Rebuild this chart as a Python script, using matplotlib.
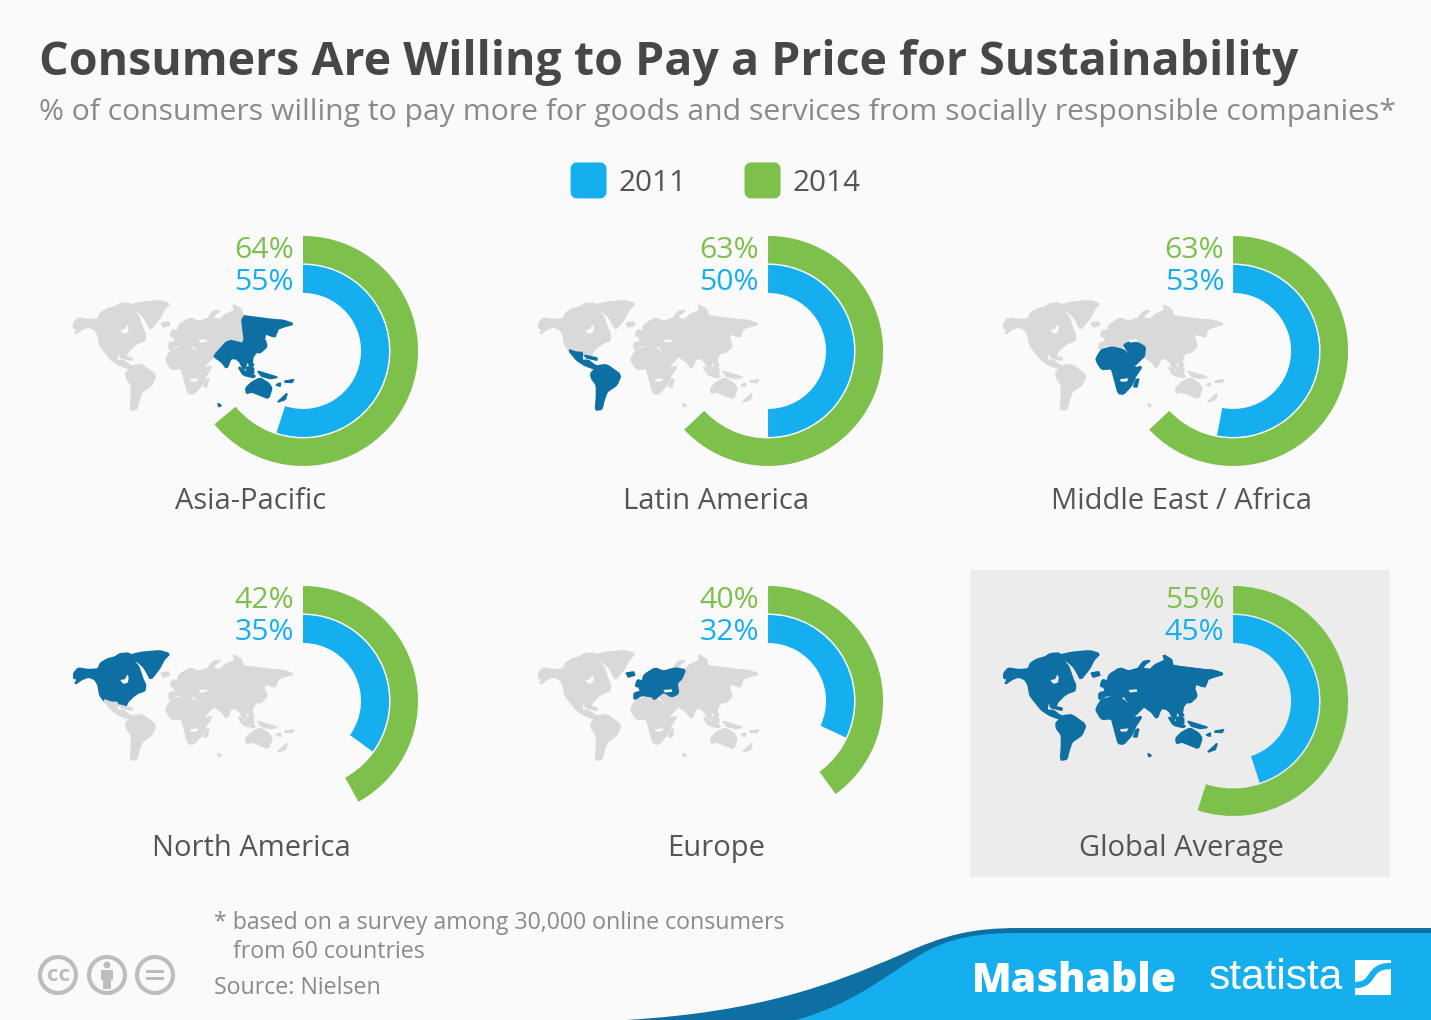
import matplotlib
matplotlib.use("Agg")
import matplotlib.pyplot as plt
from matplotlib.patches import Wedge, Polygon, Rectangle, Circle, FancyBboxPatch, PathPatch
from matplotlib.path import Path

regions = ["Asia-Pacific", "Latin America", "Middle East / Africa", "North America", "Europe", "Global Average"]
values_2011 = [55, 50, 53, 35, 32, 45]
values_2014 = [64, 63, 63, 42, 40, 55]
legend_years = ["2011", "2014"]

title = "Consumers Are Willing to Pay a Price for Sustainability"
subtitle = "% of consumers willing to pay more for goods and services from socially responsible companies*"

BG = "#fafafa"
PANEL = "#ececec"
BLUE = "#15aff0"
GREEN = "#7dc04b"
DARK = "#0e6fa3"
GREY = "#d9d9d9"
FONT = "Open Sans"

# Map silhouettes (decorative), outline points relative to a reference grid.
# "eurasia" is the whole land mass; eu/apac/mea lie on top of it.
MAP = {
    "na": [[(12,100),(25,85),(55,90),(85,88),(92,70),(112,58),(135,52),(150,42),(178,40),(190,62),(205,80),(212,100),(218,118),(226,135),(224,152),(205,158),(190,168),(172,186),(165,205),(158,192),(140,190),(128,197),(103,183),(90,165),(85,135),(75,118),(55,110),(35,118),(15,132),(25,115),(12,115)],
           [(180,46),(215,38),(270,33),(298,42),(282,58),(268,85),(242,118),(230,95),(222,82),(208,68),(192,58)]],
    "la": [[(101,180),(125,188),(142,188),(140,212),(160,212),(178,226),(194,232),(190,240),(172,234),(150,226),(125,210)],
           [(150,197),(185,205),(185,210),(155,203)],
           [(168,250),(190,228),(215,225),(257,255),(245,285),(215,305),(205,335),(200,357),(182,360),(185,320),(185,285),(170,265)]],
    "eurasia": [[(298,178),(298,160),(318,155),(312,140),(302,138),(308,120),(322,125),(328,105),(360,85),(385,95),(420,85),(450,90),(465,75),(495,62),(490,45),(515,60),(517,78),(570,85),(610,90),(640,92),(670,102),(640,110),(615,120),(612,140),(585,130),(580,165),(560,185),(548,200),(545,222),(530,215),(522,240),(510,215),(497,205),(482,205),(470,235),(455,215),(440,205),(432,198),(425,205),(415,215),(405,225),(395,205),(385,185),(378,175),(372,165),(358,178),(352,170),(340,168),(320,165)],
                [(415,85),(430,65),(450,62),(435,72),(425,88)],
                [(275,100),(295,97),(298,105),(280,110)]],
    "africa": [[(288,210),(295,195),(305,180),(335,172),(370,180),(385,195),(405,235),(425,230),(405,260),(395,285),(370,312),(355,310),(343,265),(335,235),(305,238)],
               [(402,290),(408,270),(415,268),(410,290)]],
    "eu": [[(298,178),(298,160),(318,155),(312,140),(302,138),(308,120),(322,125),(328,105),(360,85),(385,95),(420,85),(450,90),(440,115),(425,130),(430,160),(410,170),(385,155),(358,178),(352,170),(340,168),(320,165)],
           [(275,100),(295,97),(298,105),(280,110)]],
    "me": [[(372,165),(390,156),(415,160),(435,172),(432,198),(425,205),(415,215),(405,225),(395,205),(385,185),(378,175)]],
    "apac": [[(515,78),(570,85),(610,90),(640,92),(670,102),(640,110),(615,120),(612,140),(585,130),(580,165),(560,185),(548,200),(545,222),(530,215),(522,240),(510,215),(497,205),(482,205),(470,235),(455,215),(440,205),(432,198),(475,151),(525,163)],
             [(555,185),(575,170),(585,150),(590,170),(570,188)],
             [(610,135),(618,118),(622,122),(614,140)],
             [(535,205),(550,225),(540,235)],
             [(505,230),(530,250),(555,258),(550,262),(520,255)],
             [(530,232),(550,235),(550,250),(530,248)],
             [(565,245),(620,262),(600,265),(575,258)],
             [(528,295),(545,278),(570,265),(595,280),(605,295),(595,325),(570,315),(545,305),(530,310)],
             [(625,335),(650,312),(645,328)],
             [(620,285),(630,280),(630,288)],
             [(645,275),(670,270),(665,277)],
             [(445,342),(452,347),(447,349)]],
}
HOLES = [[(150,120),(165,118),(172,103),(176,112),(174,128),(160,132)],
         [(360,268),(385,265),(380,275),(362,275)],
         [(385,150),(410,148),(412,155),(390,158)]]
HIGHLIGHT = [["apac"], ["la"], ["africa", "me"], ["na"], ["eu"], ["na", "la", "eurasia", "africa", "eu", "me", "apac"]]

CENTERS = [(303, 351), (768, 351), (1233, 351), (303, 701), (768, 701), (1233, 701)]
LABEL_Y = [501, 501, 501, 848, 848, 848]

fig = plt.figure(figsize=(14.311, 10.201), dpi=100, facecolor=BG)
ax = fig.add_axes([0, 0, 1, 1])
ax.set_xlim(0, 1431)
ax.set_ylim(1020, 0)
ax.set_axis_off()

ax.text(39, 62, title, fontsize=33.5, fontweight="bold", color="#474747", family=FONT, va="center", ha="left")
ax.text(39, 112, subtitle, fontsize=21.7, color="#8a8a8a", family=FONT, va="center", ha="left")

# legend
for x, col, yr in zip((571, 745), (BLUE, GREEN), legend_years):
    ax.add_patch(FancyBboxPatch((x + 3, 166), 29, 29, boxstyle="round,pad=0,rounding_size=3",
                                mutation_aspect=1, fc=col, ec=col, lw=5))
    ax.text(x + 47, 183, yr, fontsize=21.4, color="#555555", family=FONT, va="center", ha="left")

# highlighted panel
ax.add_patch(Rectangle((970, 570), 420, 307, fc=PANEL, ec="none", zorder=0.5))

MX, MY, MS = 699, 183, 3.0


def smooth(pts):
    # one pass of light corner cutting to soften the outline
    if len(pts) < 5:
        return pts
    out = []
    n = len(pts)
    for k in range(n):
        (x0, y0), (x1, y1) = pts[k], pts[(k + 1) % n]
        out.append((0.85 * x0 + 0.15 * x1, 0.85 * y0 + 0.15 * y1))
        out.append((0.15 * x0 + 0.85 * x1, 0.15 * y0 + 0.85 * y1))
    return out


def to_px(pts, cx, cy):
    return [(cx + (x - MX) / MS, cy + (y - MY) / MS) for x, y in smooth(pts)]


for i, name in enumerate(regions):
    cx, cy = CENTERS[i]
    bg = PANEL if i == 5 else BG
    for key, polys in MAP.items():
        highlighted = key in HIGHLIGHT[i]
        # overlays only show when their region is highlighted; the land mass beneath stays grey
        if key in ("eu", "me", "apac") and not highlighted:
            if key != "apac":
                continue
            polys = polys[1:]
        col = DARK if highlighted else GREY
        for pts in polys:
            ax.add_patch(Polygon(to_px(pts, cx, cy), closed=True, fc=col, ec=col, lw=1.5,
                                 joinstyle="round", zorder=2))
    for pts in HOLES:
        ax.add_patch(Polygon(to_px(pts, cx, cy), closed=True, fc=bg, ec="none", zorder=2.1))

    # y axis is inverted, so angles run clockwise on screen; start at top (-90)
    ax.add_patch(Wedge((cx, cy), 115, -90, -90 + 3.6 * values_2014[i], width=27.5, fc=GREEN, ec="none", zorder=3))
    ax.add_patch(Wedge((cx, cy), 86, -90, -90 + 3.6 * values_2011[i], width=28, fc=BLUE, ec="none", zorder=3))

    ax.text(cx - 9, cy - 101, f"{values_2014[i]}%", fontsize=21.8, color=GREEN, family=FONT, va="center", ha="right", zorder=4)
    ax.text(cx - 9, cy - 69, f"{values_2011[i]}%", fontsize=21.8, color=BLUE, family=FONT, va="center", ha="right", zorder=4)
    ax.text(cx - 52, LABEL_Y[i], name, fontsize=21, color="#555555", family=FONT, va="center", ha="center", zorder=4)

# footnotes
ax.text(214, 923, "* based on a survey among 30,000 online consumers", fontsize=16.7, color="#8a8a8a", family=FONT, va="center")
ax.text(233, 952, "from 60 countries", fontsize=16.7, color="#8a8a8a", family=FONT, va="center")
ax.text(214, 988, "Source: Nielsen", fontsize=16.7, color="#8a8a8a", family=FONT, va="center")

# licence icons
ICON = "#bdbdbd"
for x in (58, 107, 155):
    ax.add_patch(Circle((x, 975), 18, fc="none", ec=ICON, lw=3))
ax.text(58, 975, "cc", fontsize=16, fontweight="bold", color=ICON, family=FONT, va="center", ha="center")
ax.add_patch(Circle((107, 965), 3.5, fc=ICON, ec="none"))
ax.add_patch(Rectangle((101, 970), 12, 10, fc=ICON, ec="none"))
ax.add_patch(Rectangle((103, 978), 8, 11, fc=ICON, ec="none"))
ax.add_patch(Rectangle((146, 970), 18, 3, fc=ICON, ec="none"))
ax.add_patch(Rectangle((146, 977), 18, 3, fc=ICON, ec="none"))

# footer band
C4, L = Path.CURVE4, Path.LINETO
dark_path = Path([(626, 1020), (760, 1012), (830, 985), (900, 955), (945, 935), (970, 928), (1020, 928),
                  (1431, 928), (1431, 1020), (626, 1020)],
                 [Path.MOVETO, C4, C4, C4, C4, C4, C4, L, L, Path.CLOSEPOLY])
blue_path = Path([(796, 1020), (850, 1005), (880, 980), (915, 958), (950, 935), (985, 933), (1020, 933),
                  (1431, 933), (1431, 1020), (796, 1020)],
                 [Path.MOVETO, C4, C4, C4, C4, C4, C4, L, L, Path.CLOSEPOLY])
ax.add_patch(PathPatch(dark_path, fc=DARK, ec="none", zorder=5))
ax.add_patch(PathPatch(blue_path, fc=BLUE, ec="none", zorder=6))

ax.text(972, 981, "Mashable", fontsize=29.5, fontweight=800, color="white", family=FONT, va="center", ha="left", zorder=7)
ax.text(1209, 978, "statista", fontsize=30.5, color="white", family="Liberation Sans", va="center", ha="left", zorder=7)
ax.add_patch(Rectangle((1355, 960), 36, 35, fc="white", ec="none", zorder=7))
s_path = Path([(1355, 985), (1376, 985), (1366, 966), (1391, 966)], [Path.MOVETO, C4, C4, C4])
ax.add_patch(PathPatch(s_path, fc="none", ec=BLUE, lw=4.5, zorder=8))

fig.savefig("out.png", dpi=100, facecolor=BG)
